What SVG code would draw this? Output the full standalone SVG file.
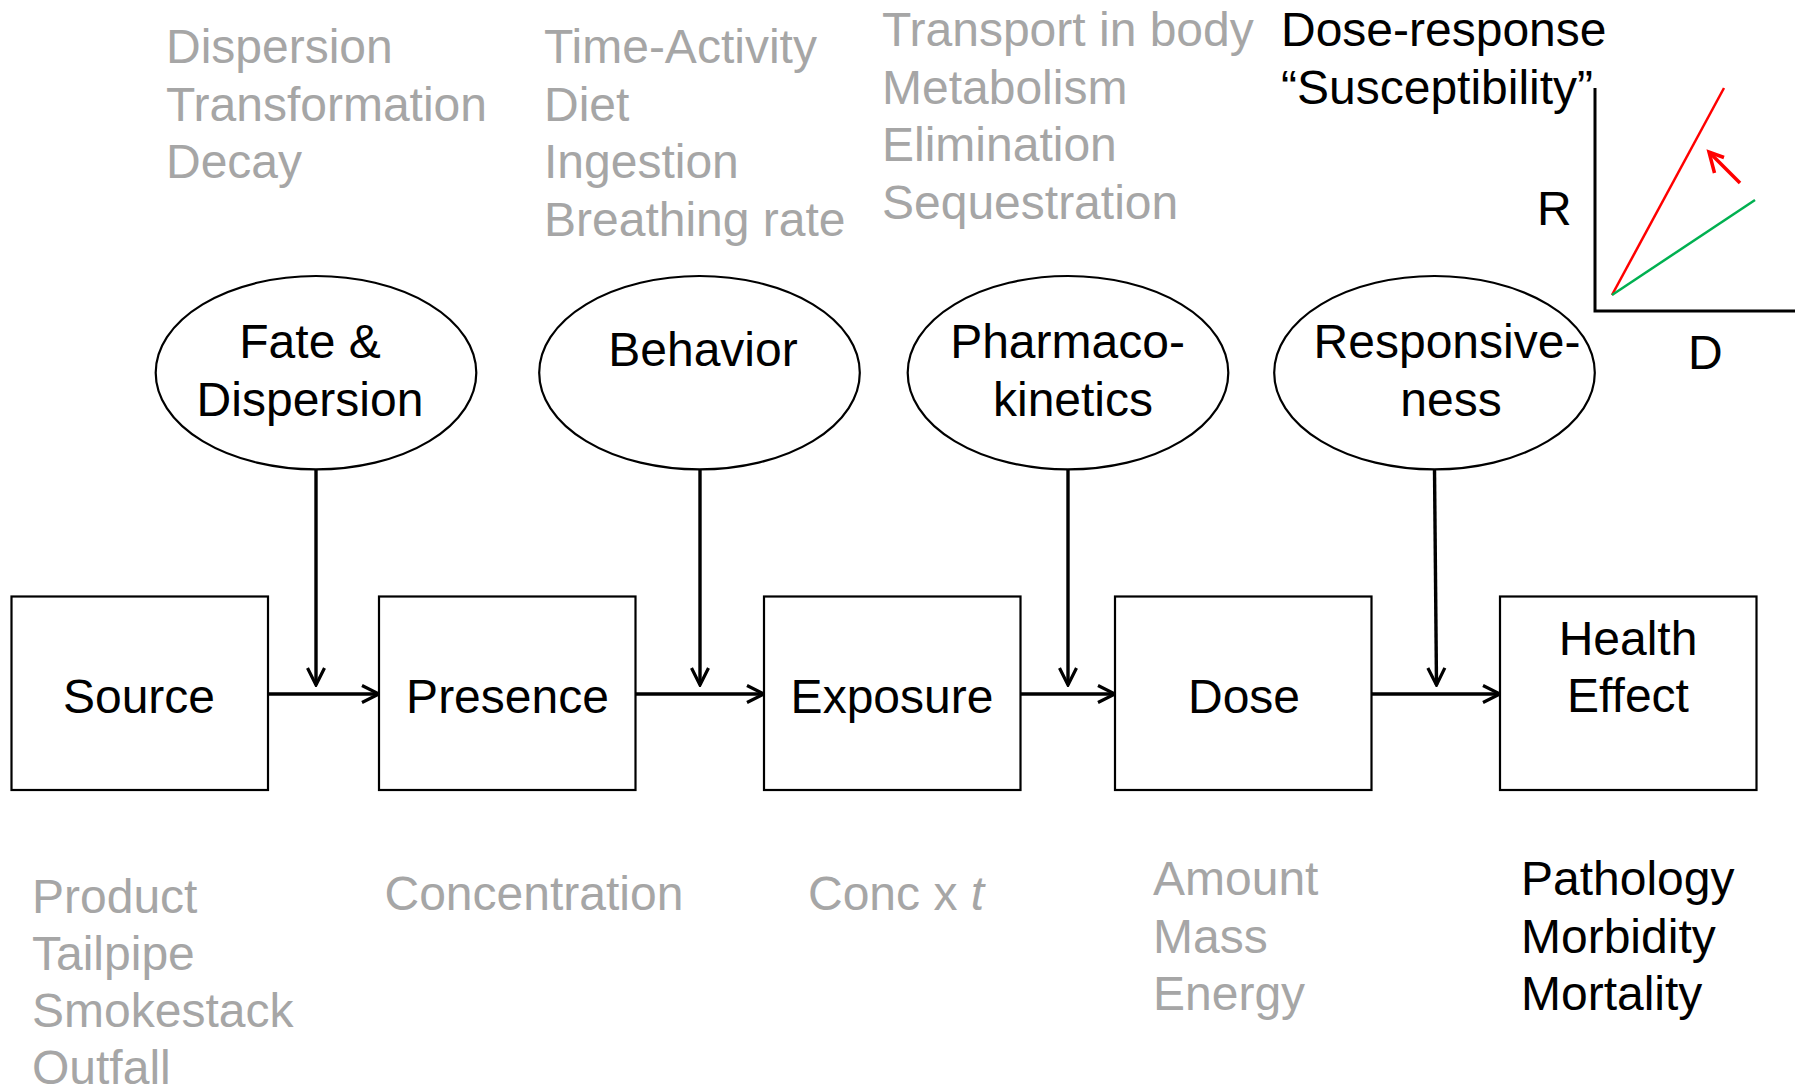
<svg xmlns="http://www.w3.org/2000/svg" width="1795" height="1092" viewBox="0 0 1795 1092">
<style>
text{font-family:"Liberation Sans",Arial,sans-serif;font-size:48px;fill:#000}
.g{fill:#A6A6A6}
.c{text-anchor:middle}
.box{fill:#fff;stroke:#000;stroke-width:2.2}
.ell{fill:#fff;stroke:#000;stroke-width:2.2}
.conn{stroke:#000;stroke-width:3.4;fill:none}
</style>
<defs>
<marker id="ah" viewBox="0 0 22 22" refX="20" refY="11" markerWidth="22" markerHeight="22" markerUnits="userSpaceOnUse" orient="auto">
<path d="M3,2.5 L20,11 L3,19.5" fill="none" stroke="#000" stroke-width="3.2"/>
</marker>
</defs>
<rect width="1795" height="1092" fill="#fff"/>

<g id="labels-top">
<text class="g" x="166" y="63">Dispersion</text>
<text class="g" x="166" y="120.5">Transformation</text>
<text class="g" x="166" y="178">Decay</text>
<text class="g" x="544" y="63">Time-Activity</text>
<text class="g" x="544" y="120.5">Diet</text>
<text class="g" x="544" y="178">Ingestion</text>
<text class="g" x="544" y="235.5">Breathing rate</text>
<text class="g" x="882" y="46">Transport in body</text>
<text class="g" x="882" y="103.5">Metabolism</text>
<text class="g" x="882" y="161">Elimination</text>
<text class="g" x="882" y="218.5">Sequestration</text>
<text x="1281" y="46">Dose-response</text>
<text x="1281" y="103.5">“Susceptibility”</text>
</g>

<g id="dose-response-chart">
<path d="M1595,88 L1595,311 L1795,311" fill="none" stroke="#000" stroke-width="3"/>
<line x1="1612" y1="295" x2="1724" y2="88" stroke="#FF0000" stroke-width="2.5"/>
<line x1="1612" y1="295" x2="1755" y2="200" stroke="#00B050" stroke-width="2.5"/>
<line x1="1740" y1="183" x2="1710" y2="153" stroke="#FF0000" stroke-width="3.5"/>
<path d="M1724,157.5 L1709,152 L1714.5,173" fill="none" stroke="#FF0000" stroke-width="3.5"/>
<text x="1537" y="225">R</text>
<text x="1688" y="369">D</text>
</g>

<g id="connectors">
<line class="conn" x1="316" y1="469" x2="316" y2="685" marker-end="url(#ah)"/>
<line class="conn" x1="700" y1="469" x2="700" y2="685" marker-end="url(#ah)"/>
<line class="conn" x1="1068" y1="469" x2="1068" y2="685" marker-end="url(#ah)"/>
<line class="conn" x1="1434.5" y1="469" x2="1436.5" y2="685" marker-end="url(#ah)"/>
<line class="conn" x1="268" y1="694" x2="379" y2="694" marker-end="url(#ah)"/>
<line class="conn" x1="635" y1="694" x2="764" y2="694" marker-end="url(#ah)"/>
<line class="conn" x1="1020" y1="694" x2="1115" y2="694" marker-end="url(#ah)"/>
<line class="conn" x1="1371" y1="694" x2="1500" y2="694" marker-end="url(#ah)"/>
</g>

<g id="fate-dispersion">
<ellipse class="ell" cx="316" cy="372.7" rx="160.3" ry="96.7"/>
<text class="c" x="310" y="358">Fate &amp;</text>
<text class="c" x="310" y="415.5">Dispersion</text>
</g>
<g id="behavior">
<ellipse class="ell" cx="699.5" cy="372.7" rx="160.3" ry="96.7"/>
<text class="c" x="703" y="366">Behavior</text>
</g>
<g id="pharmacokinetics">
<ellipse class="ell" cx="1068" cy="372.7" rx="160.3" ry="96.7"/>
<text class="c" x="1067.5" y="358">Pharmaco-</text>
<text class="c" x="1073" y="415.5">kinetics</text>
</g>
<g id="responsiveness">
<ellipse class="ell" cx="1434.5" cy="372.7" rx="160.3" ry="96.7"/>
<text class="c" x="1447" y="358">Responsive-</text>
<text class="c" x="1451" y="415.5">ness</text>
</g>

<g id="source">
<rect class="box" x="11.5" y="596.5" width="256.5" height="193.5"/>
<text class="c" x="139" y="713">Source</text>
</g>
<g id="presence">
<rect class="box" x="379" y="596.5" width="256.5" height="193.5"/>
<text class="c" x="507.5" y="713">Presence</text>
</g>
<g id="exposure">
<rect class="box" x="764" y="596.5" width="256.5" height="193.5"/>
<text class="c" x="892" y="713">Exposure</text>
</g>
<g id="dose">
<rect class="box" x="1115" y="596.5" width="256.5" height="193.5"/>
<text class="c" x="1244" y="713">Dose</text>
</g>
<g id="health-effect">
<rect class="box" x="1500" y="596.5" width="256.5" height="193.5"/>
<text class="c" x="1628" y="655">Health</text>
<text class="c" x="1628" y="712">Effect</text>
</g>

<g id="labels-bottom">
<text class="g" x="32" y="913">Product</text>
<text class="g" x="32" y="970">Tailpipe</text>
<text class="g" x="32" y="1027">Smokestack</text>
<text class="g" x="32" y="1084">Outfall</text>
<text class="g" x="384.5" y="910">Concentration</text>
<text class="g" x="808" y="910">Conc x <tspan font-style="italic">t</tspan></text>
<text class="g" x="1153" y="895">Amount</text>
<text class="g" x="1153" y="952.5">Mass</text>
<text class="g" x="1153" y="1010">Energy</text>
<text x="1521" y="895">Pathology</text>
<text x="1521" y="952.5">Morbidity</text>
<text x="1521" y="1010">Mortality</text>
</g>
</svg>
